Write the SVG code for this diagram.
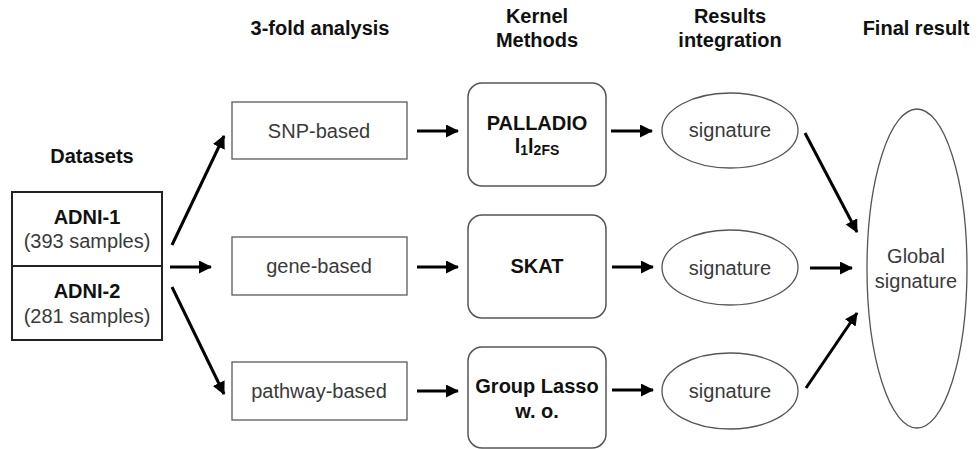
<svg xmlns="http://www.w3.org/2000/svg" width="980" height="449" viewBox="0 0 980 449">
<style>
  text { font-family: "Liberation Sans", Arial, sans-serif; fill: #2a2a2a; text-anchor: middle; }
  .hdr { font-size: 20px; font-weight: bold; fill: #111; }
  .bold { font-size: 20px; font-weight: bold; fill: #111; }
  .reg { font-size: 20px; fill: #3a3a3a; }
  .sub { font-size: 14px; }
  .ds { fill: #fff; stroke: #222; stroke-width: 2; }
  .box { fill: #fff; stroke: #666; stroke-width: 1.4; }
  .kbox { fill: #fff; stroke: #555; stroke-width: 1.5; }
  .ell { fill: #fff; stroke: #555; stroke-width: 1.3; }
  .arr { stroke: #000; stroke-width: 3; fill: none; marker-end: url(#ah); }
</style>
<defs>
  <marker id="ah" markerUnits="userSpaceOnUse" markerWidth="14" markerHeight="14" refX="12" refY="6.5" orient="auto">
    <path d="M0,0 L13,6.5 L0,13 z" fill="#000"/>
  </marker>
</defs>
<rect width="980" height="449" fill="#fff"/>

<g id="headers">
  <text class="hdr" x="92" y="163">Datasets</text>
  <text class="hdr" x="320" y="35">3-fold analysis</text>
  <text class="hdr" x="537" y="23">Kernel</text>
  <text class="hdr" x="537" y="47">Methods</text>
  <text class="hdr" x="730" y="23">Results</text>
  <text class="hdr" x="730" y="47">integration</text>
  <text class="hdr" x="916" y="35">Final result</text>
</g>

<g id="datasets">
  <rect class="ds" x="12" y="192" width="150" height="148"/>
  <line x1="12" y1="266" x2="162" y2="266" stroke="#222" stroke-width="2"/>
  <text class="bold" x="87" y="224">ADNI-1</text>
  <text class="reg" x="87" y="248">(393 samples)</text>
  <text class="bold" x="87" y="298">ADNI-2</text>
  <text class="reg" x="87" y="323">(281 samples)</text>
</g>

<g id="snp">
  <rect class="box" x="232" y="102" width="175" height="57"/>
  <text class="reg" x="319" y="138">SNP-based</text>
</g>
<g id="gene">
  <rect class="box" x="232" y="237" width="175" height="58"/>
  <text class="reg" x="319" y="273">gene-based</text>
</g>
<g id="pathway">
  <rect class="box" x="232" y="362" width="175" height="58"/>
  <text class="reg" x="319" y="398">pathway-based</text>
</g>

<g id="palladio">
  <rect class="kbox" x="468" y="83" width="138" height="103" rx="14" ry="14"/>
  <text class="bold" x="537" y="130">PALLADIO</text>
  <text class="bold" x="537" y="153">l<tspan class="sub" dy="2">1</tspan><tspan dy="-2">l</tspan><tspan class="sub" dy="2">2FS</tspan></text>
</g>
<g id="skat">
  <rect class="kbox" x="468" y="215" width="138" height="103" rx="14" ry="14"/>
  <text class="bold" x="537" y="273">SKAT</text>
</g>
<g id="grouplasso">
  <rect class="kbox" x="468" y="347" width="138" height="101" rx="14" ry="14"/>
  <text class="bold" x="537" y="393">Group Lasso</text>
  <text class="bold" x="537" y="418">w. o.</text>
</g>

<g id="sig1">
  <ellipse class="ell" cx="730" cy="130.5" rx="68" ry="37.5"/>
  <text class="reg" x="730" y="137">signature</text>
</g>
<g id="sig2">
  <ellipse class="ell" cx="730" cy="267.5" rx="68" ry="37.5"/>
  <text class="reg" x="730" y="275">signature</text>
</g>
<g id="sig3">
  <ellipse class="ell" cx="730" cy="391" rx="68" ry="38"/>
  <text class="reg" x="730" y="398">signature</text>
</g>

<g id="global">
  <ellipse class="ell" cx="917" cy="268.5" rx="50" ry="159.5"/>
  <text class="reg" x="916" y="263">Global</text>
  <text class="reg" x="916" y="288">signature</text>
</g>

<g id="connectors">
  <line class="arr" x1="172" y1="245" x2="224" y2="136"/>
  <line class="arr" x1="170" y1="267" x2="211" y2="267"/>
  <line class="arr" x1="172" y1="287" x2="224" y2="394"/>

  <line class="arr" x1="417" y1="131" x2="458" y2="131"/>
  <line class="arr" x1="417" y1="267" x2="458" y2="267"/>
  <line class="arr" x1="417" y1="391" x2="458" y2="391"/>

  <line class="arr" x1="611" y1="131" x2="652" y2="131"/>
  <line class="arr" x1="612" y1="267" x2="653" y2="267"/>
  <line class="arr" x1="612" y1="390" x2="653" y2="390"/>

  <line class="arr" x1="805" y1="133" x2="857" y2="232"/>
  <line class="arr" x1="810" y1="268" x2="852" y2="268"/>
  <line class="arr" x1="806" y1="388" x2="857" y2="313"/>
</g>
</svg>
